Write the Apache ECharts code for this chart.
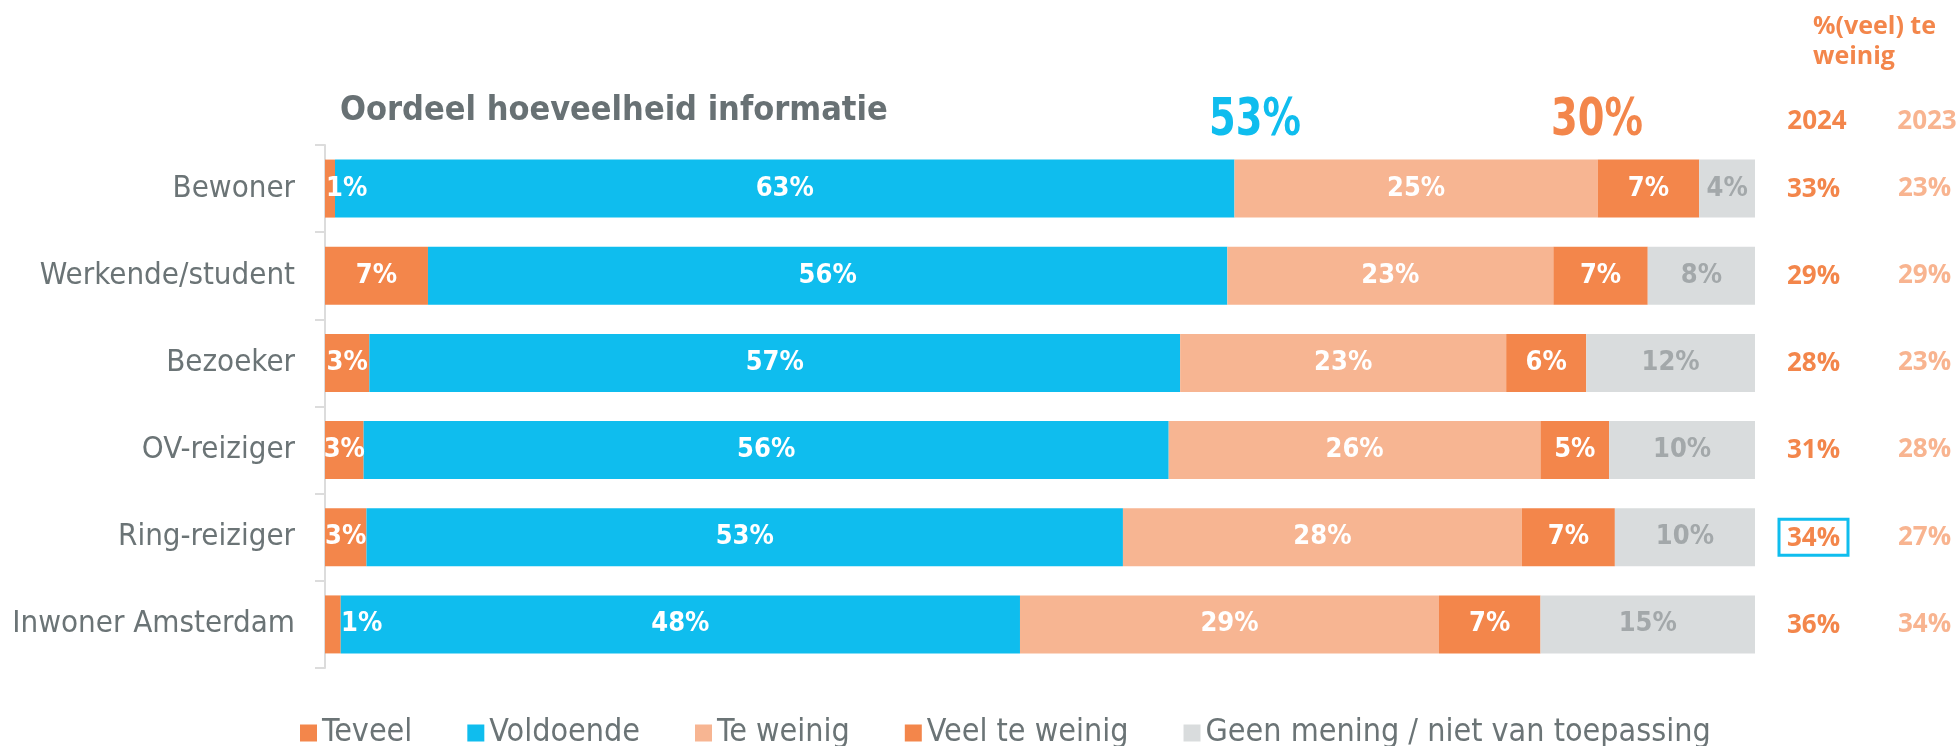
<!doctype html>
<html lang="nl">
<head>
    <meta charset="utf-8">
    <title>Oordeel hoeveelheid informatie</title>
    <script src="https://cdn.jsdelivr.net/npm/echarts@6/dist/echarts.min.js"></script>
    <style>
        html, body { margin: 0; padding: 0; background: #fff; }
        #main { width: 1959px; height: 746px; }
    </style>
</head>
<body>
<div id="main"></div>
<script>
    // data
    var categories = ['Bewoner', 'Werkende/student', 'Bezoeker', 'OV-reiziger', 'Ring-reiziger', 'Inwoner Amsterdam'];
    var teveel = [0.7, 7.2, 3.1, 2.7, 2.9, 1.1];
    var voldoende = [62.9, 55.9, 56.7, 56.3, 52.9, 47.5];
    var teWeinig = [25.4, 22.8, 22.8, 26.0, 27.9, 29.3];
    var veelTeWeinig = [7.1, 6.6, 5.6, 4.8, 6.5, 7.1];
    var geenMening = [3.9, 7.5, 11.8, 10.2, 9.8, 15.0];
    var weinig2024 = [33, 29, 28, 31, 34, 36];
    var weinig2023 = [23, 29, 23, 28, 27, 34];
    var highlightRow = 'Ring-reiziger';
    var totalVoldoende = '53%';
    var totalWeinig = '30%';

    var ORANGE = '#f3864b', CYAN = '#0fbdee', PEACH = '#f7b592', GREY = '#d9dcdd';
    var TEXT = '#6b7476';
    var condFont = '"DejaVu Sans Condensed", "DejaVu Sans", sans-serif';

    function pct(p) { return Math.round(p.value) + '%'; }

    function barLabel(color) {
        return {
            show: true,
            position: 'inside',
            formatter: pct,
            color: color,
            fontFamily: condFont,
            fontWeight: 'bold',
            fontSize: 27
        };
    }

    // tiny segments: label starts at the left of the bar
    var teveelData = teveel.map(function (v, i) {
        if (v >= 2) return v;
        return { value: v, label: { position: 'insideLeft', distance: i === 0 ? 1 : 16 } };
    });

    var series = [
        { name: 'Teveel', data: teveelData, color: ORANGE, label: barLabel('#fff') },
        { name: 'Voldoende', data: voldoende, color: CYAN, label: barLabel('#fff') },
        { name: 'Te weinig', data: teWeinig, color: PEACH, label: barLabel('#fff') },
        { name: 'Veel te weinig', data: veelTeWeinig, color: ORANGE, label: barLabel('#fff') },
        { name: 'Geen mening / niet van toepassing', data: geenMening, color: GREY, label: barLabel('#a3a8aa') }
    ].map(function (s) {
        s.type = 'bar';
        s.stack = 'totaal';
        s.barWidth = 58;
        s.itemStyle = { color: s.color };
        return s;
    });

    var chart = echarts.init(document.getElementById('main'));
    chart.setOption({
        animation: false,
        title: {
            text: 'Oordeel hoeveelheid informatie',
            left: 335,
            top: 89,
            textStyle: { fontFamily: condFont, fontWeight: 'bold', fontSize: 34, color: '#687174' }
        },
        legend: {
            left: 295,
            top: 712,
            icon: 'rect',
            itemWidth: 17,
            itemHeight: 17,
            itemGap: 55,
            selectedMode: false,
            textStyle: { fontFamily: condFont, fontSize: 32, color: TEXT }
        },
        grid: { left: 325, right: 204, top: 145, bottom: 78, outerBoundsMode: 'none', containLabel: false },
        xAxis: { type: 'value', min: 0, max: 100, show: false },
        yAxis: [{
            type: 'category',
            data: categories,
            inverse: true,
            axisLine: { show: true, lineStyle: { color: '#dcdcdc', width: 2 } },
            axisTick: { show: true, length: 10, lineStyle: { color: '#dcdcdc', width: 2 } },
            axisLabel: { margin: 30, fontFamily: condFont, fontSize: 31, color: TEXT }
        }, {
            type: 'category',
            data: categories,
            inverse: true,
            position: 'right',
            axisLine: { show: false },
            axisTick: { show: false },
            axisLabel: {
                margin: 24,
                align: 'left',
                formatter: function (v, i) {
                    var a = v === highlightRow ? 'aBox' : 'a';
                    return '{' + a + '|' + weinig2024[i] + '%}{b|' + weinig2023[i] + '%}';
                },
                rich: {
                    a: { width: 57, align: 'center', padding: [6, 6, 4, 6], lineHeight: 32,
                        fontFamily: 'Open Sans', fontWeight: 'bold', fontSize: 26, color: ORANGE },
                    aBox: { width: 57, align: 'center', padding: [6, 6, 4, 6], lineHeight: 32,
                        borderColor: CYAN, borderWidth: 3,
                        fontFamily: 'Open Sans', fontWeight: 'bold', fontSize: 26, color: ORANGE },
                    b: { width: 153, align: 'center', lineHeight: 32,
                        fontFamily: 'Open Sans', fontWeight: 'bold', fontSize: 26, color: '#f8b490' }
                }
            }
        }],
        graphic: [
            { type: 'text', x: 1255, y: 121, scaleX: 0.82, style: { text: totalVoldoende, align: 'center', verticalAlign: 'middle',
                fontFamily: condFont, fontWeight: 'bold', fontSize: 52, fill: CYAN } },
            { type: 'text', x: 1597, y: 121, scaleX: 0.82, style: { text: totalWeinig, align: 'center', verticalAlign: 'middle',
                fontFamily: condFont, fontWeight: 'bold', fontSize: 52, fill: ORANGE } },
            { type: 'text', x: 1813, y: 12, style: { text: '%(veel) te\nweinig', align: 'left', verticalAlign: 'top',
                lineHeight: 30, fontFamily: 'Open Sans', fontWeight: 'bold', fontSize: 25, fill: ORANGE } },
            { type: 'text', x: 1817, y: 122, style: { text: '2024', align: 'center', verticalAlign: 'middle',
                fontFamily: 'Open Sans', fontWeight: 'bold', fontSize: 26, fill: ORANGE } },
            { type: 'text', x: 1927, y: 122, style: { text: '2023', align: 'center', verticalAlign: 'middle',
                fontFamily: 'Open Sans', fontWeight: 'bold', fontSize: 26, fill: '#f8b490' } }
        ],
        series: series
    });
</script>
</body>
</html>
